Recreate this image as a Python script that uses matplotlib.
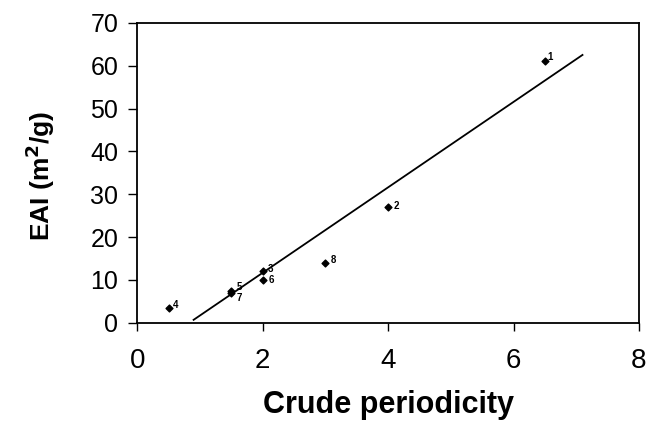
import matplotlib.pyplot as plt

plt.rcParams['font.family'] = ['Liberation Sans', 'DejaVu Sans']

# points
labels = ['1', '2', '3', '4', '5', '6', '7', '8']
periodicity = [6.5, 4.0, 2.0, 0.5, 1.5, 2.0, 1.5, 3.0]
eai = [61, 27, 12, 3.5, 7.5, 10, 7.0, 14]

# fitted line end points
fit_x = [0.9, 7.1]
fit_y = [0.7, 62.5]

# label nudges in points (dx, dy)
nudge = {'1': (2, 3), '2': (4, 1), '3': (4, 2), '4': (3, 2),
         '5': (4, 3), '6': (4, 0), '7': (4, -4), '8': (4, 2)}

fig = plt.figure(figsize=(6.5, 4.22), dpi=100)
ax = fig.add_axes([0.211, 0.235, 0.772, 0.711])

ax.plot(fit_x, fit_y, color='black', linewidth=1.3)
ax.scatter(periodicity, eai, marker='D', s=12, color='black', zorder=3)

for lab, x, y in zip(labels, periodicity, eai):
    dx, dy = nudge[lab]
    ax.annotate(lab, (x, y), xytext=(dx, dy), textcoords='offset points',
                fontsize=7, fontweight='bold', va='center', ha='left')

ax.set_xlim(0, 8)
ax.set_ylim(0, 70)
ax.set_xticks([0, 2, 4, 6, 8])
ax.set_yticks(range(0, 71, 10))
ax.tick_params(axis='x', labelsize=20, length=6, width=1, pad=12)
ax.tick_params(axis='y', labelsize=18, length=6.5, width=1, pad=7)
for s in ax.spines.values():
    s.set_linewidth(1.3)

ax.set_xlabel('Crude periodicity', fontsize=22, fontweight='bold', labelpad=12)
ax.set_ylabel('EAI (m$^\\mathbf{2}$/g)', fontsize=19, fontweight='bold')
ax.yaxis.set_label_coords(-0.16, 0.49)

fig.savefig('out.png', dpi=100)
